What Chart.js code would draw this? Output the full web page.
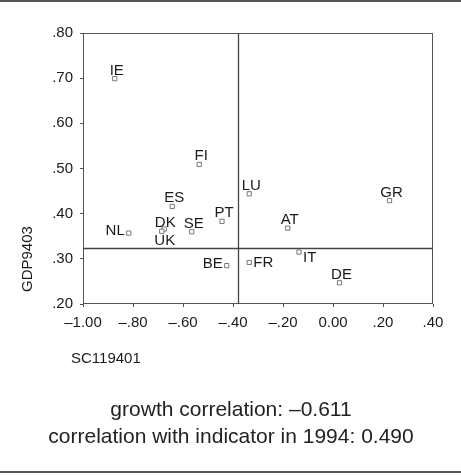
<!DOCTYPE html>
<html>
<head>
<meta charset="utf-8">
<script src="https://cdn.jsdelivr.net/npm/chart.js@4.4.1/dist/chart.umd.min.js"></script>
<style>
  html, body { margin: 0; padding: 0; background: #fff; }
  #wrap { width: 461px; height: 475px; position: relative; }
</style>
</head>
<body>
<div id="wrap"><canvas id="chart"></canvas></div>
<script>
// country codes with their two indicators
const countries = ['IE', 'FI', 'ES', 'LU', 'GR', 'PT', 'AT', 'DK', 'SE', 'NL', 'UK', 'BE', 'FR', 'IT', 'DE'];
const sc119401 = [-0.873, -0.535, -0.643, -0.335, 0.226, -0.444, -0.181, -0.675, -0.565, -0.817, -0.685, -0.425, -0.335, -0.136, 0.026];
const gdp9403 = [0.699, 0.509, 0.416, 0.444, 0.429, 0.383, 0.368, 0.366, 0.360, 0.357, 0.361, 0.285, 0.292, 0.315, 0.247];

// mean lines splitting the plot in quadrants
const meanX = -0.381;
const meanY = 0.324;

// axis ticks
const xTickValues = [-1.0, -0.8, -0.6, -0.4, -0.2, 0.0, 0.2, 0.4];
const xTickLabels = ['–1.00', '–.80', '–.60', '–.40', '–.20', '0.00', '.20', '.40'];
const yTickValues = [0.2, 0.3, 0.4, 0.5, 0.6, 0.7, 0.8];
const yTickLabels = ['.20', '.30', '.40', '.50', '.60', '.70', '.80'];

const captionLines = ['growth correlation: –0.611', 'correlation with indicator in 1994: 0.490'];

// where the country code sits next to its marker (default is above)
const labelSide = { NL: 'left', BE: 'left', UK: 'below', FR: 'right', IT: 'rightLow', DK: 'aboveClose' };

const FONT = '"Liberation Sans", Arial, Helvetica, sans-serif';
const INK = '#1a1a1a';
const LINE = '#555';

const points = countries.map((c, i) => ({ x: sc119401[i], y: gdp9403[i] }));

const decor = {
    id: 'decor',
    beforeDatasetsDraw(chart) {
        const { ctx, chartArea: a, scales: { x, y } } = chart;
        ctx.save();
        ctx.strokeStyle = LINE;
        ctx.lineWidth = 1;
        ctx.strokeRect(a.left + 0.5, a.top + 0.5, a.width - 1, a.height - 1);
        // quadrant lines
        ctx.strokeStyle = '#444';
        ctx.lineWidth = 1.3;
        const mx = Math.round(x.getPixelForValue(meanX)) + 0.5;
        const my = Math.round(y.getPixelForValue(meanY)) + 0.5;
        ctx.beginPath();
        ctx.moveTo(mx, a.top);
        ctx.lineTo(mx, a.bottom);
        ctx.moveTo(a.left, my);
        ctx.lineTo(a.right, my);
        ctx.stroke();
        ctx.restore();
    },
    afterDatasetsDraw(chart) {
        const { ctx, scales: { x, y } } = chart;
        ctx.save();
        ctx.fillStyle = INK;
        ctx.font = '15px ' + FONT;
        ctx.textBaseline = 'alphabetic';
        countries.forEach((c, i) => {
            const px = x.getPixelForValue(sc119401[i]);
            const py = y.getPixelForValue(gdp9403[i]);
            const side = labelSide[c] || 'above';
            if (side === 'left') {
                ctx.textAlign = 'right';
                ctx.fillText(c, px - 4, py + 2);
            } else if (side === 'right') {
                ctx.textAlign = 'left';
                ctx.fillText(c, px + 4, py + 5);
            } else if (side === 'rightLow') {
                ctx.textAlign = 'left';
                ctx.fillText(c, px + 4, py + 10);
            } else if (side === 'below') {
                ctx.textAlign = 'center';
                ctx.fillText(c, px + 3, py + 14);
            } else if (side === 'aboveClose') {
                ctx.textAlign = 'center';
                ctx.fillText(c, px + 1, py - 2);
            } else {
                ctx.textAlign = 'center';
                ctx.fillText(c, px + 2, py - 4);
            }
        });

        // axis titles
        ctx.textAlign = 'left';
        ctx.fillText('SC119401', 71, 363);
        ctx.save();
        ctx.translate(32, 292);
        ctx.rotate(-Math.PI / 2);
        ctx.fillText('GDP9403', 0, 0);
        ctx.restore();

        // caption
        ctx.font = '21px ' + FONT;
        ctx.textAlign = 'center';
        ctx.fillStyle = '#222';
        ctx.fillText(captionLines[0], 231, 416);
        ctx.fillText(captionLines[1], 231, 443);

        // rules above and below the figure
        ctx.fillStyle = '#555';
        ctx.fillRect(0, 0, 461, 2);
        ctx.fillRect(0, 471, 461, 2);
        ctx.restore();
    }
};

new Chart(document.getElementById('chart'), {
    type: 'scatter',
    data: {
        datasets: [{
            data: points,
            pointStyle: 'rect',
            pointRadius: 3,
            pointHoverRadius: 3,
            borderWidth: 1,
            borderColor: '#777',
            backgroundColor: '#fff'
        }]
    },
    options: {
        responsive: true,
        maintainAspectRatio: false,
        animation: false,
        events: [],
        layout: { padding: { top: 33, right: 28, left: 0, bottom: 100 } },
        plugins: {
            legend: { display: false },
            tooltip: { enabled: false }
        },
        scales: {
            x: {
                type: 'linear',
                min: -1.0,
                max: 0.4,
                afterFit: s => { s.height = 71; },
                afterBuildTicks: s => { s.ticks = xTickValues.map(v => ({ value: v })); },
                ticks: {
                    autoSkip: false,
                    maxRotation: 0,
                    padding: 7,
                    color: INK,
                    font: { family: FONT, size: 15 },
                    callback: (v, i) => xTickLabels[i]
                },
                grid: { drawOnChartArea: false, drawTicks: true, tickLength: 3, color: LINE },
                border: { display: false }
            },
            y: {
                type: 'linear',
                min: 0.2,
                max: 0.8,
                afterFit: s => { s.width = 83; },
                afterBuildTicks: s => { s.ticks = yTickValues.map(v => ({ value: v })); },
                ticks: {
                    autoSkip: false,
                    padding: 7,
                    color: INK,
                    font: { family: FONT, size: 15 },
                    callback: (v, i) => yTickLabels[i]
                },
                grid: { drawOnChartArea: false, drawTicks: true, tickLength: 3, color: LINE },
                border: { display: false }
            }
        }
    },
    plugins: [decor]
});
</script>
</body>
</html>
